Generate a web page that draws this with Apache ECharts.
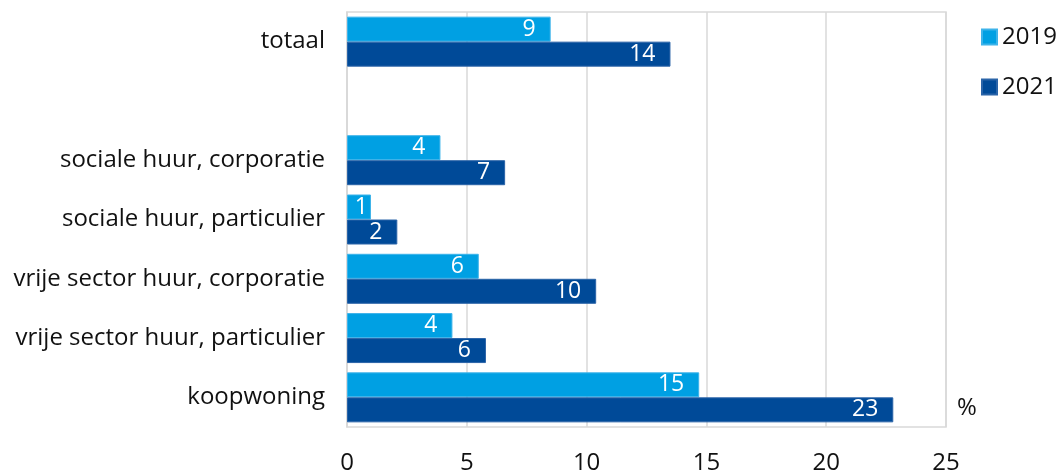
<!DOCTYPE html>
<html>
<head>
<meta charset="utf-8">
<script src="https://cdn.jsdelivr.net/npm/echarts@6/dist/echarts.min.js"></script>
<style>
html,body{margin:0;padding:0;background:#fff;}
#c{width:1059px;height:475px;}
</style>
</head>
<body>
<div id="c"></div>
<script>
const categories = ['totaal', '', 'sociale huur, corporatie', 'sociale huur, particulier', 'vrije sector huur, corporatie', 'vrije sector huur, particulier', 'koopwoning'];
const values2019 = [8.5, null, 3.9, 1.0, 5.5, 4.4, 14.7];
const values2021 = [13.5, null, 6.6, 2.1, 10.4, 5.8, 22.8];
const seriesNames = ['2019', '2021'];
const xTicks = [0, 5, 10, 15, 20, 25];

const FONT = '"Open Sans", Lato, sans-serif';
const FS = 24;
const chart = echarts.init(document.getElementById('c'), null, {renderer: 'canvas'});
function labelCfg() {
  return {
    show: true,
    position: 'insideRight',
    distance: 15,
    color: '#fff',
    fontSize: 23,
    fontFamily: FONT,
    formatter: p => p.value == null ? '' : String(Math.round(p.value))
  };
}
function toData(arr) {
  // short bars: Excel nudges the label so it stays inside the bar
  return arr.map(v => (v != null && v < 1.5) ? {value: v, label: {distance: 3}} : v);
}
chart.setOption({
  animation: false,
  textStyle: {fontFamily: FONT},
  grid: {left: 347, right: 113, top: 12, bottom: 47, containLabel: false, show: true, borderColor: '#d9d9d9', borderWidth: 1.5},
  legend: {
    orient: 'vertical',
    left: 976, top: 20,
    itemWidth: 15, itemHeight: 15, itemGap: 26,
    icon: 'rect',
    textStyle: {fontSize: FS, color: '#111', fontFamily: FONT},
    data: seriesNames
  },
  xAxis: {
    type: 'value', min: xTicks[0], max: xTicks[xTicks.length - 1], interval: 5,
    axisLine: {show: false}, axisTick: {show: false},
    splitLine: {lineStyle: {color: '#d9d9d9', width: 1.5}},
    axisLabel: {fontSize: FS, color: '#111', margin: 24, fontFamily: FONT}
  },
  yAxis: {
    type: 'category', inverse: true, data: categories,
    axisLine: {show: true, lineStyle: {color: '#d9d9d9', width: 1.5}},
    axisTick: {show: false},
    axisLabel: {fontSize: FS, color: '#111', margin: 22, fontFamily: FONT}
  },
  graphic: [{
    type: 'text', left: 957, top: 396,
    style: {text: '%', fontSize: FS, fill: '#111', fontFamily: FONT}
  }],
  series: [
    {name: seriesNames[0], type: 'bar', data: toData(values2019), barWidth: 25, barGap: '0%',
     itemStyle: {color: '#00a0e3', borderColor: '#3db3ea', borderWidth: 1}, label: labelCfg()},
    {name: seriesNames[1], type: 'bar', data: toData(values2021), barWidth: 25, barGap: '0%',
     itemStyle: {color: '#004a98', borderColor: '#2a64a8', borderWidth: 1}, label: labelCfg()}
  ]
});
</script>
</body>
</html>
